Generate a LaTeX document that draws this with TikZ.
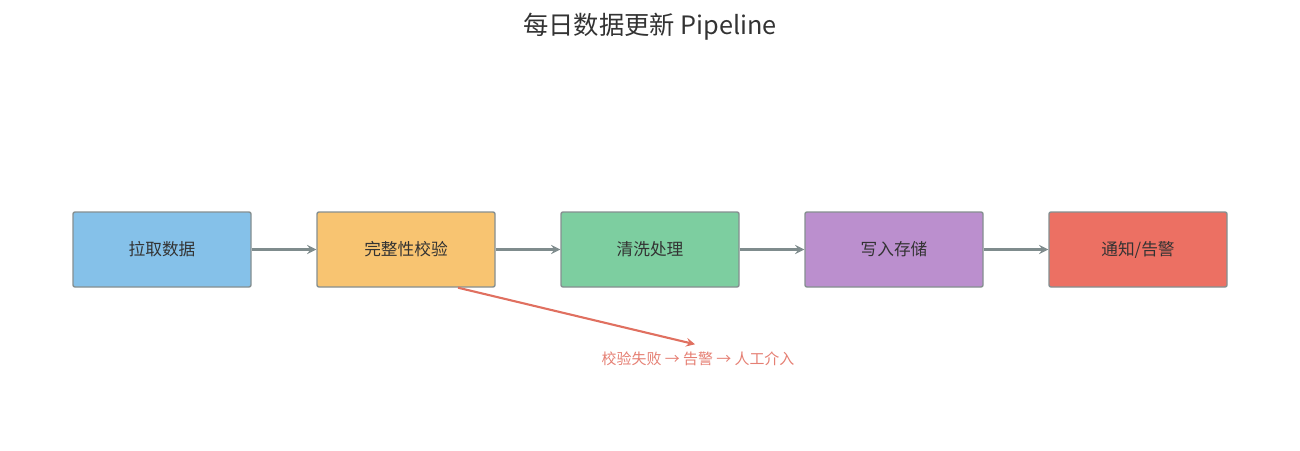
\documentclass[tikz,border=0pt]{standalone}
\usepackage{fontspec}
\setmainfont{Noto Sans CJK SC}
\usetikzlibrary{shapes.geometric, arrows, positioning, calc}
\definecolor{boxBorder}{HTML}{858F90}
\definecolor{arrowGray}{HTML}{7F8C8D}
\definecolor{txtDark}{HTML}{333333}
\definecolor{fillBlue}{HTML}{85C1E9}
\definecolor{fillOrange}{HTML}{F8C471}
\definecolor{fillGreen}{HTML}{7DCEA0}
\definecolor{fillPurple}{HTML}{BB8FCE}
\definecolor{fillRed}{HTML}{EC7063}
\definecolor{failRed}{HTML}{E07060}
\definecolor{failText}{HTML}{E57F73}
\tikzstyle{stageNode} = [rectangle, minimum width=3.56cm, minimum height=1.5cm, text centered, rounded corners=0.04cm, draw=boxBorder, line width=0.8pt, text=txtDark, font=\fontsize{9.5}{11}\selectfont]
\tikzstyle{arrowG} = [line width=1.3pt,->,>=stealth,draw=arrowGray]
\tikzstyle{arrowR} = [line width=1.2pt,->,>=stealth,draw=failRed]

\begin{document}
\begin{tikzpicture}[node distance=4.88cm]
        \useasboundingbox (0,0) rectangle (26,9);
        \node (title) at (13,8.46) [text=txtDark, font=\fontsize{14.4}{17}\selectfont] {每日数据更新 Pipeline};

        \node (fetch) at (3.24,4.01) [stageNode, fill=fillBlue] {拉取数据};
        \node (check) [stageNode, fill=fillOrange, right of=fetch] {完整性校验};
        \node (clean) [stageNode, fill=fillGreen, right of=check] {清洗处理};
        \node (store) [stageNode, fill=fillPurple, right of=clean] {写入存储};
        \node (notify) [stageNode, fill=fillRed, right of=store] {通知/告警};
        \node (fail) at (13.96,1.82) [text=failText, font=\fontsize{8.5}{10}\selectfont] {校验失败 → 告警 → 人工介入};
        \coordinate (failEnd) at ($(fail.north)+(-0.06,0.03)$);

        \draw [arrowG] (fetch) -- (check);
        \draw [arrowG] (check) -- (clean);
        \draw [arrowG] (clean) -- (store);
        \draw [arrowG] (store) -- (notify);
        \draw [arrowR] ($(check.south)+(1.04,0)$) -- (failEnd);
    \end{tikzpicture}
\end{document}
